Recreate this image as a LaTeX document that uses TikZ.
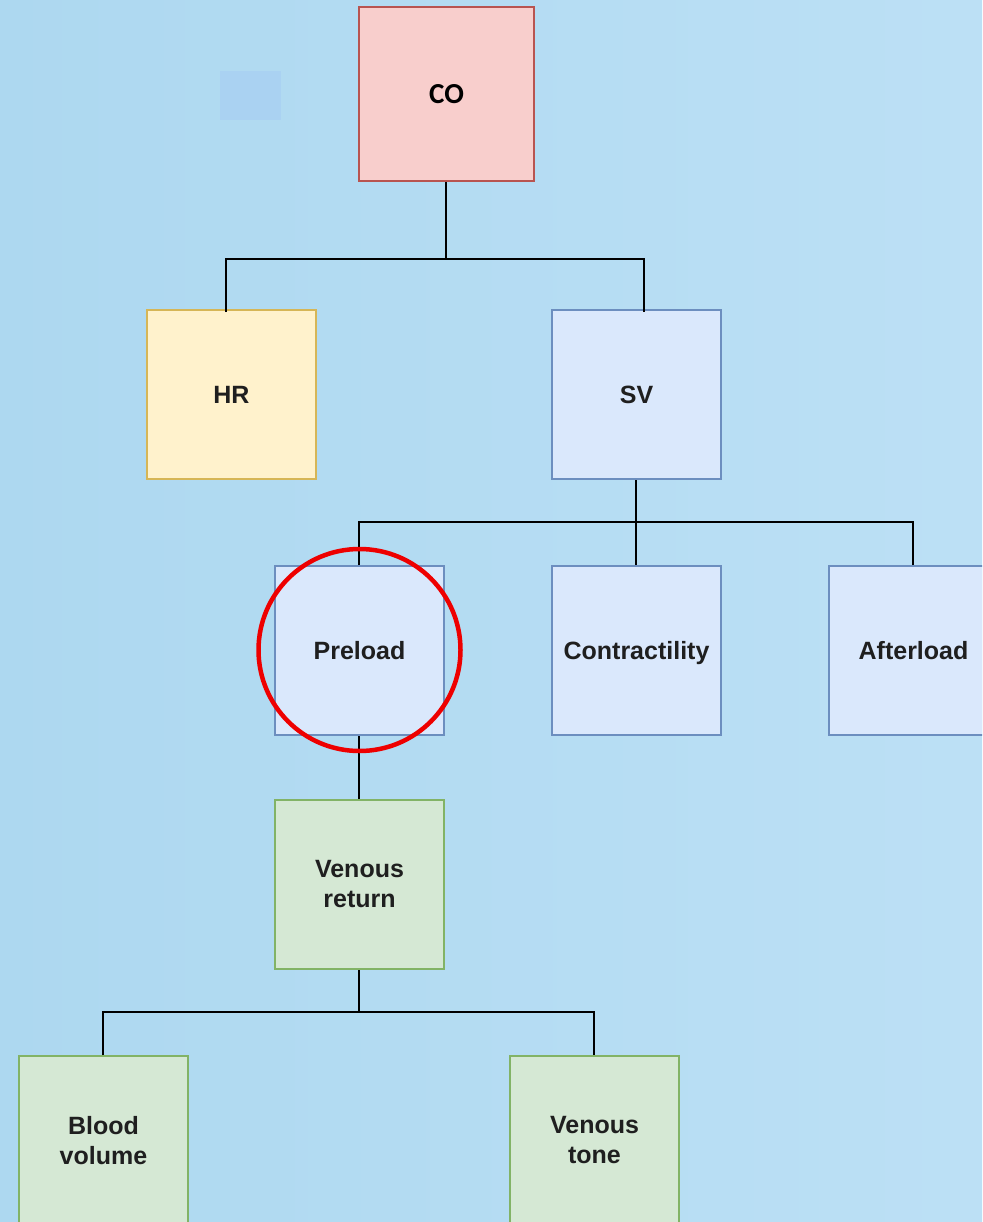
\documentclass[tikz,border=0pt]{standalone}
\usepackage{fontspec}
\setmainfont{Liberation Sans}
\newfontfamily\cofont{Carlito}
\definecolor{bgL}{RGB}{173,216,240}
\definecolor{bgR}{RGB}{188,224,245}
\definecolor{patch}{RGB}{170,210,242}
\definecolor{redF}{RGB}{248,206,204}
\definecolor{redD}{RGB}{184,84,80}
\definecolor{yelF}{RGB}{255,242,204}
\definecolor{yelD}{RGB}{214,182,86}
\definecolor{bluF}{RGB}{218,232,252}
\definecolor{bluD}{RGB}{108,142,191}
\definecolor{grnF}{RGB}{213,232,212}
\definecolor{grnD}{RGB}{130,179,102}
\definecolor{ringC}{RGB}{238,0,0}
\begin{document}
\begin{tikzpicture}[x=1pt,y=-1pt,
  box/.style={rectangle, draw, line width=2pt, minimum width=169pt, minimum height=169pt, inner sep=0pt,
    align=center, text=black!88, font=\fontsize{25}{30}\selectfont\bfseries},
  oneline/.style={text height=18pt, text depth=0pt},
  redbox/.style={box, fill=redF, draw=redD},
  yelbox/.style={box, fill=yelF, draw=yelD},
  bluebox/.style={box, fill=bluF, draw=bluD},
  grnbox/.style={box, fill=grnF, draw=grnD},
  conn/.style={line width=2pt, black}
]
\useasboundingbox (0,0) rectangle (982,1222);
\clip (0,0) rectangle (982,1222);
\shade[left color=bgL, right color=bgR] (0,0) rectangle (982,1222);
\fill[patch] (220,71) rectangle (281,120);

\node[redbox, minimum width=175pt, minimum height=174pt, font=\cofont\fontsize{29}{32}\selectfont\bfseries, text=black, text height=19pt, text depth=0pt] (co) at (446.5,94) {CO};
\node[yelbox, oneline] (hr) at (231.5,394.5) {HR};
\node[bluebox, oneline] (sv) at (636.5,394.5) {SV};
\node[bluebox, oneline] (pre) at (359.5,650.5) {Preload};
\node[bluebox, oneline] (con) at (636.5,650.5) {Contractility};
\node[bluebox, oneline] (aft) at (913.5,650.5) {Afterload};
\node[grnbox] (vr) at (359.5,884.5) {Venous\\return};
\node[grnbox] (bv) at (103.5,1140.5) {Blood\\volume};
\node[grnbox] (vt) at (594.5,1140.5) {Venous\\tone};

\coordinate (j1) at (446,259);
\coordinate (j1l) at (226,259);
\coordinate (j1r) at (644,259);
\coordinate (hrt) at (226,312);
\coordinate (svt) at (644,312);
\draw[conn] (co.south -| j1) -- (j1);
\draw[conn] (hrt) -- (j1l) -- (j1r) -- (svt);

\coordinate (j2) at (636,522);
\coordinate (j2l) at (359,522);
\coordinate (j2r) at (913,522);
\draw[conn] (sv.south -| j2) -- (j2);
\draw[conn] (pre.north -| j2l) -- (j2l) -- (j2r) -- (aft.north -| j2r);
\draw[conn] (j2) -- (con.north -| j2);

\draw[conn] (pre.south -| j2l) -- (vr.north -| j2l);

\coordinate (j3) at (359,1012);
\coordinate (j3l) at (103,1012);
\coordinate (j3r) at (594,1012);
\draw[conn] (vr.south -| j3) -- (j3);
\draw[conn] (bv.north -| j3l) -- (j3l) -- (j3r) -- (vt.north -| j3r);

\node[circle, draw=ringC, line width=4.5pt, minimum size=202pt, inner sep=0pt] (ring) at (359.5,650) {};
\end{tikzpicture}
\end{document}
